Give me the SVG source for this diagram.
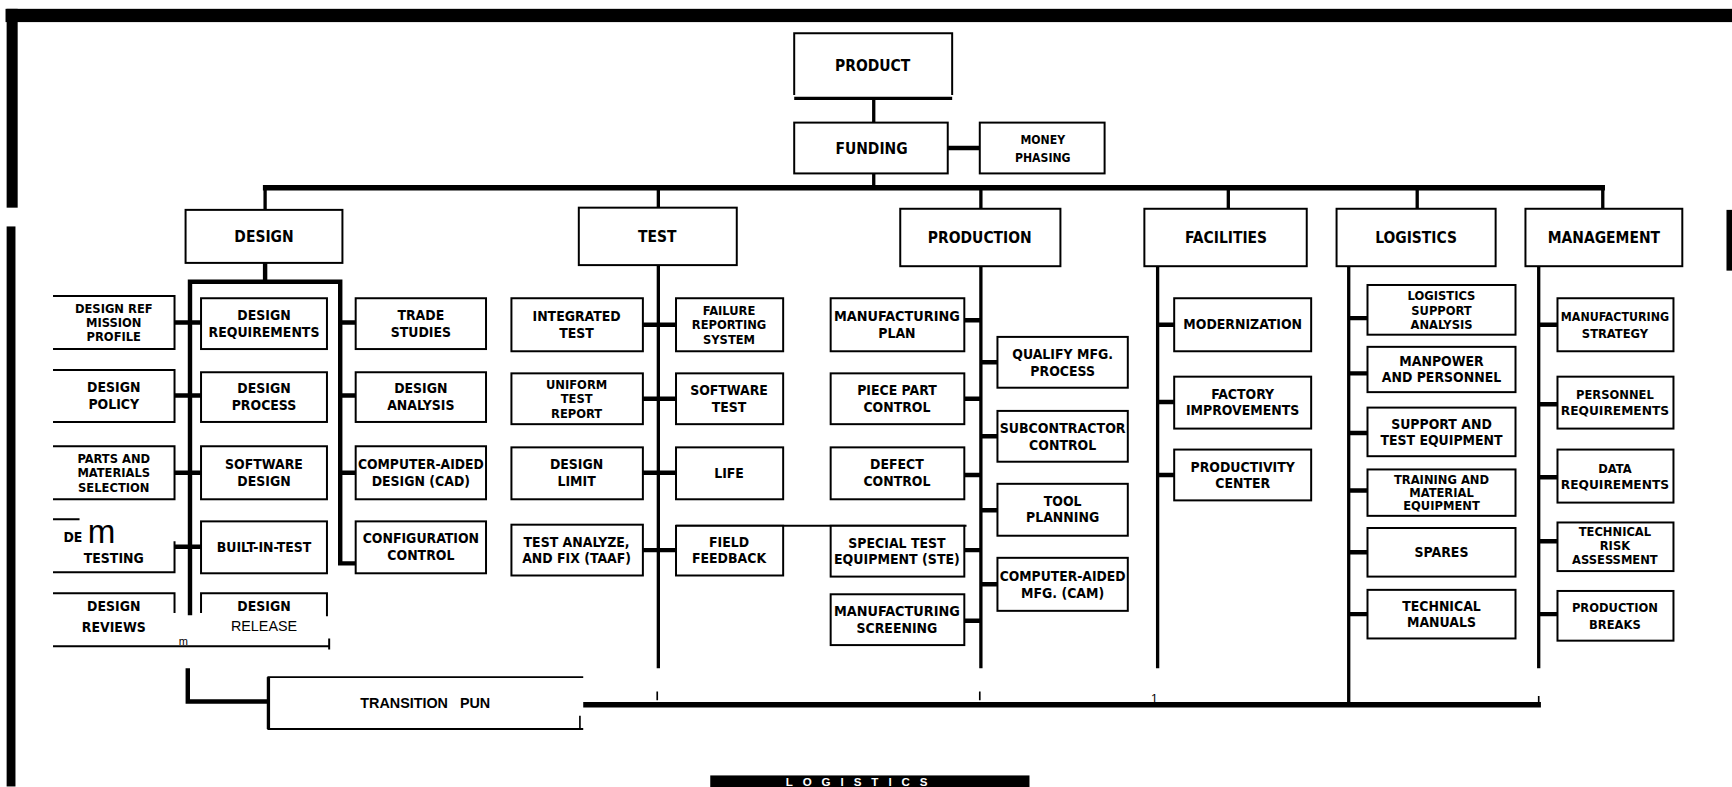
<svg xmlns="http://www.w3.org/2000/svg" width="1732" height="787" viewBox="0 0 1732 787">
<style>
.b{fill:#fff;stroke:#000;stroke-width:1.8}
.o{fill:none;stroke:#000;stroke-width:1.8}
.c{fill:none;stroke:#000;stroke-width:3}
.s{fill:none;stroke:#000;stroke-width:4}
.k{fill:none;stroke:#000;stroke-width:5}
.t{font-family:"DejaVu Sans Condensed","Liberation Sans Narrow","Liberation Sans",sans-serif;font-weight:bold;font-size:12.6px;text-anchor:middle;fill:#000}
.t3{font-size:11.6px}
.h{font-size:14px}
.r{font-family:"Liberation Sans",Arial,sans-serif;font-weight:normal;font-size:11px;text-anchor:middle;fill:#000}
</style>
<rect width="1732" height="787" fill="#fff"/>
<g transform="scale(1.1046)">
<g id="frame">
<rect x="5" y="8" width="1563" height="12" fill="#000"/>
<rect x="6" y="8" width="10" height="180" fill="#000"/>
<rect x="6" y="205" width="8" height="507" fill="#000"/>
<rect x="1563" y="190" width="5" height="55" fill="#000"/>
<rect x="643" y="702" width="289" height="13" fill="#000"/>
<text x="780" y="711.5" style="font-family:'Liberation Sans',sans-serif;font-weight:bold;font-size:10.5px;letter-spacing:9px;fill:#fff;text-anchor:middle">LOGISTICS</text>
</g>
<g id="connectors">
<line class="c" x1="791" y1="88" x2="791" y2="111"/>
<line class="s" x1="858" y1="134" x2="887" y2="134"/>
<line class="c" x1="791" y1="157" x2="791" y2="170"/>
<line class="k" x1="238" y1="170" x2="1453" y2="170"/>
<path class="c" d="M240,170V190M596,170V188M888,170V189M1112,170V189M1283,170V189M1451,170V189"/>
<path class="s" d="M240,238V255M172,557V255H308V510H322"/>
<path class="s" d="M158,292H182M158,358H182M158,428H182M158,495H182M308,292H322M308,358H322M308,428H322"/>
<line class="c" x1="596" y1="240" x2="596" y2="605"/>
<path class="s" d="M582,294H612M582,361H612M582,428H612M582,498H612"/>
<line class="o" x1="612" y1="476" x2="875" y2="476"/>
<line class="c" x1="888" y1="241" x2="888" y2="605"/>
<path class="s" d="M873,290H888M873,361H888M873,430H888M873,498H888M873,562H888M888,328H903M888,395H903M888,462H903M888,529H903"/>
<line class="c" x1="1048" y1="241" x2="1048" y2="605"/>
<path class="s" d="M1048,294H1063M1048,364H1063M1048,430H1063"/>
<line class="c" x1="1221" y1="241" x2="1221" y2="638"/>
<path class="s" d="M1221,288H1238M1221,338H1238M1221,392H1238M1221,444H1238M1221,500H1238M1221,556H1238"/>
<line class="c" x1="1393" y1="241" x2="1393" y2="605"/>
<path class="s" d="M1393,294H1410M1393,366H1410M1393,432H1410M1393,490H1410M1393,556H1410"/>
<path class="s" d="M170,605V635H243"/>
<line class="k" x1="528" y1="638" x2="1395" y2="638"/>
<path style="stroke:#000;stroke-width:1.5" d="M595,626V634M887,626V634M1393,630V638"/>
<text x="1045" y="636" class="r">1</text>
</g>

<g id="product"><path class="o" d="M719,86V30H862V86"/><line x1="719" y1="89" x2="862" y2="89" stroke="#000" stroke-width="3"/><text class="t h" x="790" y="64">PRODUCT</text></g>
<g id="funding"><rect class="b" x="719" y="111" width="139" height="46"/><text class="t h" x="789" y="139">FUNDING</text></g>
<g id="money"><rect class="b" x="887" y="111" width="113" height="46"/><text class="t" style="font-size:11px"><tspan x="944" y="130">MONEY</tspan><tspan x="944" y="147">PHASING</tspan></text></g>

<g id="design"><rect class="b" x="168" y="190" width="142" height="48"/><text class="t h" x="239" y="219">DESIGN</text></g>
<g id="test"><rect class="b" x="524" y="188" width="143" height="52"/><text class="t h" x="595" y="219">TEST</text></g>
<g id="production"><rect class="b" x="815" y="189" width="145" height="52"/><text class="t h" x="887" y="220">PRODUCTION</text></g>
<g id="facilities"><rect class="b" x="1036" y="189" width="147" height="52"/><text class="t h" x="1110" y="220">FACILITIES</text></g>
<g id="logistics"><rect class="b" x="1210" y="189" width="144" height="52"/><text class="t h" x="1282" y="220">LOGISTICS</text></g>
<g id="management"><rect class="b" x="1381" y="189" width="142" height="52"/><text class="t h" x="1452" y="220">MANAGEMENT</text></g>

<g id="d-ref"><path class="o" d="M48,268H158V316H48"/><text class="t t3"><tspan x="103" y="283">DESIGN REF</tspan><tspan x="103" y="296">MISSION</tspan><tspan x="103" y="309">PROFILE</tspan></text></g>
<g id="d-policy"><path class="o" d="M48,335H158V382H48"/><text class="t"><tspan x="103" y="355">DESIGN</tspan><tspan x="103" y="370">POLICY</tspan></text></g>
<g id="d-parts"><path class="o" d="M48,404H158V452H48"/><text class="t t3"><tspan x="103" y="419">PARTS AND</tspan><tspan x="103" y="432">MATERIALS</tspan><tspan x="103" y="445">SELECTION</tspan></text></g>
<g id="d-testing"><path class="o" d="M48,470H72M158,490V518H48"/><text class="t" x="66" y="491">DE</text><text class="r" x="92" y="492" style="font-size:30px">m</text><text class="t" x="103" y="510">TESTING</text></g>
<g id="d-reviews"><path class="o" d="M48,537H158V555"/><text class="t"><tspan x="103" y="553">DESIGN</tspan><tspan x="103" y="572">REVIEWS</tspan></text></g>
<g id="d-release"><path class="o" d="M182,555V537H296V558"/><text class="t" x="239" y="553">DESIGN</text><text class="r" x="239" y="571" style="font-size:13px">RELEASE</text></g>
<g id="d-bottom"><path class="o" d="M48,585H298M298,578V588"/><text class="r" x="166" y="584" style="font-size:10px">m</text></g>

<g id="d-req"><rect class="b" x="182" y="270" width="114" height="46"/><text class="t"><tspan x="239" y="290">DESIGN</tspan><tspan x="239" y="305">REQUIREMENTS</tspan></text></g>
<g id="d-proc"><rect class="b" x="182" y="337" width="114" height="45"/><text class="t"><tspan x="239" y="356">DESIGN</tspan><tspan x="239" y="371">PROCESS</tspan></text></g>
<g id="d-sw"><rect class="b" x="182" y="404" width="114" height="48"/><text class="t"><tspan x="239" y="425">SOFTWARE</tspan><tspan x="239" y="440">DESIGN</tspan></text></g>
<g id="d-bit"><rect class="b" x="182" y="472" width="114" height="47"/><text class="t" x="239" y="500">BUILT-IN-TEST</text></g>

<g id="d-trade"><rect class="b" x="322" y="270" width="118" height="46"/><text class="t"><tspan x="381" y="290">TRADE</tspan><tspan x="381" y="305">STUDIES</tspan></text></g>
<g id="d-anal"><rect class="b" x="322" y="337" width="118" height="45"/><text class="t"><tspan x="381" y="356">DESIGN</tspan><tspan x="381" y="371">ANALYSIS</tspan></text></g>
<g id="d-cad"><rect class="b" x="322" y="404" width="118" height="48"/><text class="t"><tspan x="381" y="425" textLength="114" lengthAdjust="spacingAndGlyphs">COMPUTER-AIDED</tspan><tspan x="381" y="440">DESIGN (CAD)</tspan></text></g>
<g id="d-config"><rect class="b" x="322" y="472" width="118" height="47"/><text class="t"><tspan x="381" y="492">CONFIGURATION</tspan><tspan x="381" y="507">CONTROL</tspan></text></g>

<g id="t-int"><rect class="b" x="463" y="270" width="119" height="48"/><text class="t"><tspan x="522" y="291">INTEGRATED</tspan><tspan x="522" y="306">TEST</tspan></text></g>
<g id="t-utr"><rect class="b" x="463" y="338" width="119" height="46"/><text class="t t3"><tspan x="522" y="352">UNIFORM</tspan><tspan x="522" y="365">TEST</tspan><tspan x="522" y="378">REPORT</tspan></text></g>
<g id="t-dl"><rect class="b" x="463" y="405" width="119" height="47"/><text class="t"><tspan x="522" y="425">DESIGN</tspan><tspan x="522" y="440">LIMIT</tspan></text></g>
<g id="t-taaf"><rect class="b" x="463" y="475" width="119" height="46"/><text class="t"><tspan x="522" y="495">TEST ANALYZE,</tspan><tspan x="522" y="510">AND FIX (TAAF)</tspan></text></g>
<g id="t-frs"><rect class="b" x="612" y="270" width="97" height="48"/><text class="t t3"><tspan x="660" y="285">FAILURE</tspan><tspan x="660" y="298">REPORTING</tspan><tspan x="660" y="311">SYSTEM</tspan></text></g>
<g id="t-sw"><rect class="b" x="612" y="338" width="97" height="46"/><text class="t"><tspan x="660" y="358">SOFTWARE</tspan><tspan x="660" y="373">TEST</tspan></text></g>
<g id="t-life"><rect class="b" x="612" y="405" width="97" height="47"/><text class="t" x="660" y="433">LIFE</text></g>
<g id="t-ff"><rect class="b" x="612" y="476" width="97" height="45"/><text class="t"><tspan x="660" y="495">FIELD</tspan><tspan x="660" y="510">FEEDBACK</tspan></text></g>

<g id="p-plan"><rect class="b" x="752" y="270" width="121" height="48"/><text class="t"><tspan x="812" y="291" textLength="114" lengthAdjust="spacingAndGlyphs">MANUFACTURING</tspan><tspan x="812" y="306">PLAN</tspan></text></g>
<g id="p-ppc"><rect class="b" x="752" y="338" width="121" height="46"/><text class="t"><tspan x="812" y="358">PIECE PART</tspan><tspan x="812" y="373">CONTROL</tspan></text></g>
<g id="p-dc"><rect class="b" x="752" y="405" width="121" height="47"/><text class="t"><tspan x="812" y="425">DEFECT</tspan><tspan x="812" y="440">CONTROL</tspan></text></g>
<g id="p-ste"><rect class="b" x="752" y="476" width="121" height="46"/><text class="t"><tspan x="812" y="496">SPECIAL TEST</tspan><tspan x="812" y="511" textLength="114" lengthAdjust="spacingAndGlyphs">EQUIPMENT (STE)</tspan></text></g>
<g id="p-scr"><rect class="b" x="752" y="538" width="121" height="46"/><text class="t"><tspan x="812" y="558" textLength="114" lengthAdjust="spacingAndGlyphs">MANUFACTURING</tspan><tspan x="812" y="573">SCREENING</tspan></text></g>
<g id="p-qual"><rect class="b" x="903" y="305" width="118" height="46"/><text class="t"><tspan x="962" y="325">QUALIFY MFG.</tspan><tspan x="962" y="340">PROCESS</tspan></text></g>
<g id="p-sub"><rect class="b" x="903" y="372" width="118" height="46"/><text class="t"><tspan x="962" y="392" textLength="114" lengthAdjust="spacingAndGlyphs">SUBCONTRACTOR</tspan><tspan x="962" y="407">CONTROL</tspan></text></g>
<g id="p-tool"><rect class="b" x="903" y="438" width="118" height="47"/><text class="t"><tspan x="962" y="458">TOOL</tspan><tspan x="962" y="473">PLANNING</tspan></text></g>
<g id="p-cam"><rect class="b" x="903" y="505" width="118" height="48"/><text class="t"><tspan x="962" y="526" textLength="114" lengthAdjust="spacingAndGlyphs">COMPUTER-AIDED</tspan><tspan x="962" y="541">MFG. (CAM)</tspan></text></g>

<g id="f-mod"><rect class="b" x="1063" y="270" width="124" height="48"/><text class="t" x="1125" y="298">MODERNIZATION</text></g>
<g id="f-fi"><rect class="b" x="1063" y="341" width="124" height="47"/><text class="t"><tspan x="1125" y="361">FACTORY</tspan><tspan x="1125" y="376">IMPROVEMENTS</tspan></text></g>
<g id="f-pc"><rect class="b" x="1063" y="407" width="124" height="46"/><text class="t"><tspan x="1125" y="427">PRODUCTIVITY</tspan><tspan x="1125" y="442">CENTER</tspan></text></g>

<g id="l-lsa"><rect class="b" x="1238" y="258" width="134" height="45"/><text class="t t3"><tspan x="1305" y="272">LOGISTICS</tspan><tspan x="1305" y="285">SUPPORT</tspan><tspan x="1305" y="298">ANALYSIS</tspan></text></g>
<g id="l-mp"><rect class="b" x="1238" y="314" width="134" height="41"/><text class="t"><tspan x="1305" y="331">MANPOWER</tspan><tspan x="1305" y="346">AND PERSONNEL</tspan></text></g>
<g id="l-ste"><rect class="b" x="1238" y="369" width="134" height="44"/><text class="t"><tspan x="1305" y="388">SUPPORT AND</tspan><tspan x="1305" y="403">TEST EQUIPMENT</tspan></text></g>
<g id="l-tme"><rect class="b" x="1238" y="425" width="134" height="42"/><text class="t t3"><tspan x="1305" y="438">TRAINING AND</tspan><tspan x="1305" y="450">MATERIAL</tspan><tspan x="1305" y="462">EQUIPMENT</tspan></text></g>
<g id="l-sp"><rect class="b" x="1238" y="478" width="134" height="44"/><text class="t" x="1305" y="504">SPARES</text></g>
<g id="l-tm"><rect class="b" x="1238" y="534" width="134" height="44"/><text class="t"><tspan x="1305" y="553">TECHNICAL</tspan><tspan x="1305" y="568">MANUALS</tspan></text></g>

<g id="m-ms"><rect class="b" x="1410" y="270" width="105" height="48"/><text class="t t3"><tspan x="1462" y="291" textLength="98" lengthAdjust="spacingAndGlyphs">MANUFACTURING</tspan><tspan x="1462" y="306">STRATEGY</tspan></text></g>
<g id="m-pr"><rect class="b" x="1410" y="341" width="105" height="47"/><text class="t t3"><tspan x="1462" y="361">PERSONNEL</tspan><tspan x="1462" y="376" textLength="98" lengthAdjust="spacingAndGlyphs">REQUIREMENTS</tspan></text></g>
<g id="m-dr"><rect class="b" x="1410" y="407" width="105" height="48"/><text class="t t3"><tspan x="1462" y="428">DATA</tspan><tspan x="1462" y="443" textLength="98" lengthAdjust="spacingAndGlyphs">REQUIREMENTS</tspan></text></g>
<g id="m-tra"><rect class="b" x="1410" y="473" width="105" height="44"/><text class="t t3"><tspan x="1462" y="485">TECHNICAL</tspan><tspan x="1462" y="498">RISK</tspan><tspan x="1462" y="511">ASSESSMENT</tspan></text></g>
<g id="m-pb"><rect class="b" x="1410" y="535" width="105" height="45"/><text class="t t3"><tspan x="1462" y="554">PRODUCTION</tspan><tspan x="1462" y="569">BREAKS</tspan></text></g>

<g id="transition"><path class="o" d="M528,613H243V660H528"/><line x1="243" y1="613" x2="243" y2="660" stroke="#000" stroke-width="3"/><line x1="525" y1="648" x2="525" y2="660" stroke="#000" stroke-width="1.5"/><text class="r" x="385" y="641" style="font-size:13px;font-weight:bold" xml:space="preserve">TRANSITION   PUN</text></g>
</g>
</svg>
